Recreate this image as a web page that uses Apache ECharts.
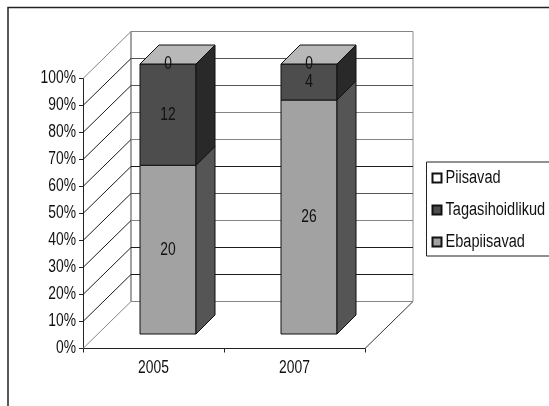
<!DOCTYPE html>
<html>
<head>
<meta charset="utf-8">
<style>html,body{margin:0;padding:0;background:#fff;overflow:hidden}#c{width:549px;height:406px}</style>
<script src="https://cdn.jsdelivr.net/npm/echarts@6/dist/echarts.min.js"></script>
</head>
<body>
<div id="c"></div>
<script>
const years = ['2005', '2007'];
const ebapiisavad = [20, 26];
const tagasihoidlikud = [12, 4];
const piisavad = [0, 0];
const percentTicks = [0, 10, 20, 30, 40, 50, 60, 70, 80, 90, 100];

const FONT = '"Liberation Sans", Arial, sans-serif';
const FONT_SIZE = 18;
const TEXT_SQUEEZE = 0.77;    // chart text is set horizontally condensed
const LEGEND_SQUEEZE = 0.81;
const LEGEND_LEFT = 426.5;
const WALL_DEPTH = 48;     // oblique offset of the back wall, px
const BAR_SHIFT = 14.5;    // bar front face sits this far behind the axis plane
const BAR_DEPTH = 19;
const BAR_HALF = 28;
const LINE_DARK = '#1c1c1c';
const LINE_MID = '#555555';
const LINE_GREY = '#858585';
// Tone of each gridline, bottom to top
const gridTones = [LINE_GREY, LINE_DARK, LINE_DARK, LINE_GREY, LINE_MID, LINE_DARK, LINE_GREY, LINE_GREY, LINE_MID, LINE_MID, LINE_GREY];

const totals = years.map((_, i) => ebapiisavad[i] + tagasihoidlikud[i] + piisavad[i]);

// Turn raw counts into [category, startPct, endPct, count] rows for a stacked 100% layer
function layerRows(values, below) {
  return values.map((v, i) => {
    const base = below.reduce((s, arr) => s + arr[i], 0);
    return [i, base / totals[i] * 100, (base + v) / totals[i] * 100, v];
  });
}

function poly(points, fill, stroke, z2) {
  return {
    type: 'polygon', z2: z2 || 0,
    shape: { points },
    style: { fill, stroke: stroke || '#111', lineWidth: 1 }
  };
}

// One segment of an oblique 3D column, with its value in the middle of the front face
function barRenderer(front, side, top) {
  return function (params, api) {
    const cat = api.value(0);
    const p0 = api.coord([cat, api.value(1)]);
    const p1 = api.coord([cat, api.value(2)]);
    const cx = p0[0] + BAR_SHIFT;
    const l = cx - BAR_HALF, r = cx + BAR_HALF;
    const yb = p0[1] - BAR_SHIFT, yt = p1[1] - BAR_SHIFT;
    const d = BAR_DEPTH;
    const children = [];
    if (yb - yt > 0.01) {
      children.push(poly([[l, yb], [r, yb], [r, yt], [l, yt]], front));
      children.push(poly([[r, yb], [r + d, yb - d], [r + d, yt - d], [r, yt]], side));
    }
    if (top) {
      children.push(poly([[l, yt], [r, yt], [r + d, yt - d], [l + d, yt - d]], top));
    }
    children.push({
      type: 'text', z2: 5,
      style: {
        x: cx, y: (yb + yt) / 2 + 0.5,
        text: String(api.value(3)),
        font: FONT_SIZE + 'px ' + FONT,
        fill: '#111', align: 'center', verticalAlign: 'middle'
      }
    });
    return { type: 'group', children };
  };
}

// Side wall, back wall and floor of the oblique plot box
function wallRenderer(params, api) {
  const v = api.value(0);
  const a = api.coord([0, v]);
  const rect = params.coordSys;
  const left = rect.x, right = rect.x + rect.width;
  const y = a[1], D = WALL_DEPTH;
  const tone = gridTones[params.dataIndex];
  const children = [
    { type: 'line', shape: { x1: left, y1: y, x2: left + D, y2: y - D + 1 }, style: { stroke: v === 100 || v === 0 ? LINE_GREY : LINE_DARK, lineWidth: 1 } },
    { type: 'line', shape: { x1: left + D, y1: y - D + 1, x2: right + D, y2: y - D + 1 }, style: { stroke: tone, lineWidth: 1 } }
  ];
  if (v === 0) {
    children.push({ type: 'line', shape: { x1: right, y1: y, x2: right + D, y2: y - D + 1 }, style: { stroke: '#333', lineWidth: 1 } });
    children.push({ type: 'line', shape: { x1: left + D, y1: y - D + 1, x2: left + D, y2: rect.y - D + 1 }, style: { stroke: LINE_GREY, lineWidth: 1.5 } });
    children.push({ type: 'line', shape: { x1: right + D, y1: y - D + 1, x2: right + D, y2: rect.y - D + 1 }, style: { stroke: '#b4b4b4', lineWidth: 1.5 } });
  }
  return { type: 'group', children };
}

function layerSeries(name, legendColor, rows, front, side, top, z) {
  return {
    name, type: 'custom', coordinateSystem: 'cartesian2d', clip: false, z,
    itemStyle: { color: legendColor, borderColor: '#111', borderWidth: 1 },
    renderItem: barRenderer(front, side, top),
    encode: { x: 0, y: [1, 2] },
    data: rows
  };
}

const chart = echarts.init(document.getElementById('c'), null, { renderer: 'canvas' });
chart.setOption({
  animation: false,
  backgroundColor: '#fff',
  textStyle: { fontFamily: FONT },
  graphic: [{
    type: 'polyline', silent: true,
    shape: { points: [[8, 406], [8, 7.5], [549, 7.5]] },
    style: { fill: 'none', stroke: '#222', lineWidth: 1.5 }
  }],
  grid: { left: 83, top: 78.5, width: 282, height: 270 },
  xAxis: {
    type: 'category', data: years,
    axisLine: { show: true, lineStyle: { color: '#222', width: 1 } },
    axisTick: { show: true, alignWithLabel: false, length: 4, lineStyle: { color: '#222' } },
    axisLabel: { color: '#111', fontFamily: FONT, fontSize: FONT_SIZE, margin: 11 },
    splitLine: { show: false }
  },
  yAxis: {
    type: 'value', min: 0, max: 100, interval: 10,
    axisLine: { show: true, lineStyle: { color: '#222', width: 1 } },
    axisTick: { show: true, length: 4, lineStyle: { color: '#222' } },
    axisLabel: { color: '#111', fontFamily: FONT, fontSize: FONT_SIZE, margin: 7, formatter: '{value}%' },
    splitLine: { show: false }
  },
  legend: {
    orient: 'vertical', left: LEGEND_LEFT, top: 162,
    padding: [7, 12, 5, 5],
    itemGap: 14, itemWidth: 9, itemHeight: 9,
    backgroundColor: '#fff', borderColor: '#222', borderWidth: 1, borderRadius: 0,
    icon: 'rect',
    textStyle: { color: '#111', fontFamily: FONT, fontSize: FONT_SIZE, padding: [0, 0, 0, -1], lineHeight: 18 },
    data: ['Piisavad', 'Tagasihoidlikud', 'Ebapiisavad']
  },
  series: [
    {
      name: 'walls', type: 'custom', coordinateSystem: 'cartesian2d', clip: false, z: 1,
      silent: true,
      renderItem: wallRenderer,
      encode: { y: 0 },
      data: percentTicks.map(v => [v])
    },
    layerSeries('Ebapiisavad', '#a2a2a2', layerRows(ebapiisavad, []), '#a2a2a2', '#555555', null, 2),
    layerSeries('Tagasihoidlikud', '#4d4d4d', layerRows(tagasihoidlikud, [ebapiisavad]), '#4d4d4d', '#292929', null, 3),
    layerSeries('Piisavad', '#ffffff', layerRows(piisavad, [ebapiisavad, tagasihoidlikud]), '#ffffff', '#cccccc', '#b8b8b8', 4)
  ]
});

// Condense every text run around its own anchor so alignment is kept
const zr = chart.getZr();
const legendNames = ['Piisavad', 'Tagasihoidlikud', 'Ebapiisavad'];
zr.storage.getDisplayList(true).forEach(el => {
  if (el.type === 'tspan' || (el.style && typeof el.style.text === 'string' && el.style.font)) {
    el.scaleX = legendNames.includes(el.style.text) ? LEGEND_SQUEEZE : TEXT_SQUEEZE;
    el.originX = el.style.x || 0;
    el.markRedraw();
  }
});
zr.refreshImmediately();
</script>
</body>
</html>
